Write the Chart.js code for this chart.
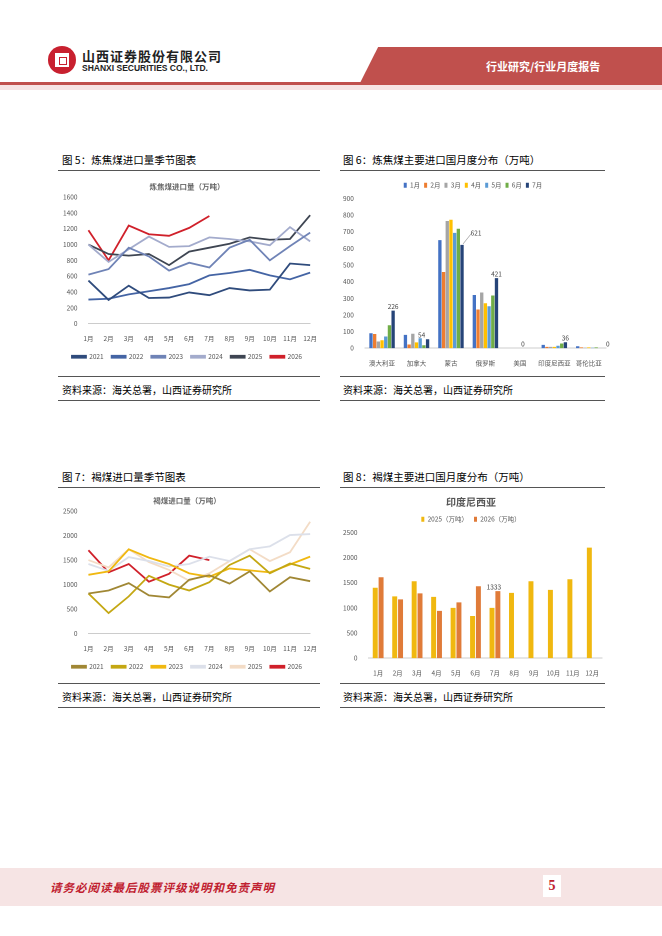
<!DOCTYPE html>
<html><head><meta charset="utf-8">
<script src="https://cdn.jsdelivr.net/npm/chart.js@4"></script>
<style>
body{margin:0;width:662px;height:936px;position:relative;background:#fff;font-family:"Noto Sans CJK SC",sans-serif;overflow:hidden}
.abs{position:absolute}
.ttl{font-size:10.5px;color:#000}
.src{font-size:10px;color:#000}
.hr{position:absolute;height:0;border-top:1px solid #555}
</style></head><body>
<!-- header -->
<div class="abs" style="left:48px;top:46px;width:28px;height:28px;border-radius:50%;background:#c8202f"></div>
<div class="abs" style="left:55px;top:53px;width:14px;height:14px;background:#fff"></div>
<div class="abs" style="left:59px;top:57px;width:6px;height:6px;border:1px solid #c8202f"></div>
<div class="abs" style="left:82px;top:46px;font-size:13px;font-weight:bold;color:#222;letter-spacing:1px">山西证券股份有限公司</div>
<div class="abs" style="left:82px;top:63px;font-size:8.5px;font-weight:bold;color:#222;font-family:'Liberation Sans'">SHANXI SECURITIES CO., LTD.</div>
<div class="abs" style="left:360px;top:47px;width:302px;height:36px;background:#c0504d;clip-path:polygon(6% 0,100% 0,100% 100%,0 100%)"></div>
<div class="abs" style="left:486px;top:58px;font-size:11px;color:#fff;font-weight:bold">行业研究/行业月度报告</div>
<div class="abs" style="left:0;top:82px;width:662px;height:3px;background:#c0504d"></div>
<div class="abs" style="left:0;top:85px;width:662px;height:5px;background:#f6e4e4"></div>

<!-- titles -->
<div class="abs ttl" style="left:62px;top:152px">图 5：炼焦煤进口量季节图表</div>
<div class="abs ttl" style="left:343px;top:152px">图 6：炼焦煤主要进口国月度分布（万吨）</div>
<div class="hr" style="left:58px;top:170px;width:262px"></div>
<div class="hr" style="left:340px;top:170px;width:265px"></div>
<div class="hr" style="left:58px;top:376px;width:262px"></div>
<div class="hr" style="left:340px;top:376px;width:265px"></div>
<div class="abs src" style="left:62px;top:382px">资料来源：海关总署，山西证券研究所</div>
<div class="abs src" style="left:343px;top:382px">资料来源：海关总署，山西证券研究所</div>
<div class="hr" style="left:58px;top:400px;width:262px"></div>
<div class="hr" style="left:340px;top:400px;width:265px"></div>

<div class="abs ttl" style="left:62px;top:469px">图 7：褐煤进口量季节图表</div>
<div class="abs ttl" style="left:343px;top:469px">图 8：褐煤主要进口国月度分布（万吨）</div>
<div class="hr" style="left:58px;top:487px;width:262px"></div>
<div class="hr" style="left:340px;top:487px;width:265px"></div>
<div class="hr" style="left:58px;top:683px;width:262px"></div>
<div class="hr" style="left:340px;top:683px;width:265px"></div>
<div class="abs src" style="left:62px;top:689px">资料来源：海关总署，山西证券研究所</div>
<div class="abs src" style="left:343px;top:689px">资料来源：海关总署，山西证券研究所</div>
<div class="hr" style="left:58px;top:707px;width:262px"></div>
<div class="hr" style="left:340px;top:707px;width:265px"></div>

<div class="abs" style="left:58px;top:178px;width:262px;height:192px"><canvas id="c1"></canvas></div>
<div class="abs" style="left:340px;top:178px;width:270px;height:192px"><canvas id="c2"></canvas></div>
<div class="abs" style="left:58px;top:492px;width:262px;height:188px"><canvas id="c3"></canvas></div>
<div class="abs" style="left:340px;top:492px;width:270px;height:188px"><canvas id="c4"></canvas></div>

<!-- footer -->
<div class="abs" style="left:0;top:868px;width:662px;height:38px;background:#f6e4e4"></div>
<div class="abs" style="left:50px;top:879px;font-size:11.5px;color:#c0202f;font-weight:bold;font-style:italic;letter-spacing:1px">请务必阅读最后股票评级说明和免责声明</div>
<div class="abs" style="left:543px;top:875px;width:18px;height:22px;background:#fff;color:#c0202f;font-weight:bold;font-size:14px;text-align:center;line-height:22px;font-family:'Liberation Serif'">5</div>

<script>
var months = ['1月','2月','3月','4月','5月','6月','7月','8月','9月','10月','11月','12月'];

// 炼焦煤进口量
var ck2021 = [545,300,480,325,330,395,360,450,420,430,760,740];
var ck2022 = [305,315,370,410,450,500,610,640,680,610,560,645];
var ck2023 = [620,690,960,850,670,770,710,960,1060,800,980,1150];
var ck2024 = [1000,780,940,1100,970,980,1090,1070,1040,990,1220,1040];
var ck2025 = [1000,880,860,880,740,910,960,1010,1090,1060,1070,1370];
var ck2026 = [1180,800,1240,1130,1110,1210,1360];

// 主要进口国
var countries = ['澳大利亚','加拿大','蒙古','俄罗斯','美国','印度尼西亚','哥伦比亚'];
var cm1 = [90,80,650,320,0,20,12];
var cm2 = [85,22,458,233,0,8,5];
var cm3 = [40,87,765,335,0,8,3];
var cm4 = [48,35,772,270,0,8,5];
var cm5 = [70,60,693,252,0,15,3];
var cm6 = [138,18,718,317,0,28,5];
var cm7 = [226,54,621,421,0,36,0];

// 褐煤进口量
var lg2021 = [820,880,1030,780,740,1100,1190,1020,1270,860,1150,1070];
var lg2022 = [820,420,760,1180,1000,880,1050,1400,1590,1230,1430,1320];
var lg2023 = [1200,1270,1720,1550,1420,1230,1160,1330,1290,1250,1410,1570];
var lg2024 = [1420,1280,1560,1480,1370,1420,1570,1480,1720,1780,2010,2030];
var lg2025 = [1500,1350,1720,1460,1300,1080,1230,1480,1720,1480,1660,2280];
var lg2026 = [1700,1250,1420,1060,1220,1590,1500];

// 印度尼西亚
var id2025 = [1400,1230,1530,1220,1000,840,1000,1300,1530,1360,1570,2200];
var id2026 = [1610,1170,1290,940,1110,1430,1333];

Chart.defaults.font = {family:'"Noto Sans CJK SC"', size:6.5};
Chart.defaults.color = '#555';
Chart.defaults.animation = false;
Chart.defaults.devicePixelRatio = 2;

var plainTick = function(v){ return String(v); };

var labelPlugin = {
  id:'lbl',
  afterDatasetsDraw:function(chart, args, opts){
    var ctx = chart.ctx;
    (opts.items||[]).forEach(function(it){
      var el = chart.getDatasetMeta(it.ds).data[it.i];
      var v = chart.data.datasets[it.ds].data[it.i];
      var dx = it.dx||0, dy = it.dy||0;
      ctx.save(); ctx.fillStyle='#444'; ctx.font='6.5px "Noto Sans CJK SC"'; ctx.textAlign='center';
      ctx.fillText(String(v), el.x + dx, el.y - 4 + dy);
      if (it.lead){ ctx.strokeStyle='#999'; ctx.lineWidth=0.6; ctx.beginPath(); ctx.moveTo(el.x+1,el.y-1); ctx.lineTo(el.x+dx-5,el.y+dy-3); ctx.stroke(); }
      ctx.restore();
    });
  }
};

var xAxis = {grid:{display:false}, border:{color:'#ccc'}, ticks:{color:'#555', maxRotation:0, minRotation:0, autoSkip:false}};

function lineDs(label, data, color){
  return {label:label, data:data, borderColor:color, backgroundColor:color, borderWidth:1.8, pointRadius:0, tension:0};
}
function lineChart(id, title, max, step, sets){
  new Chart(document.getElementById(id), {
    type:'line',
    data:{labels:months, datasets:sets},
    options:{
      responsive:true, maintainAspectRatio:false,
      layout:{padding:{left:2,right:6}},
      scales:{
        x:xAxis,
        y:{min:0, max:max, ticks:{stepSize:step, color:'#555', callback:plainTick}, grid:{display:false}, border:{display:false}}
      },
      plugins:{
        title:{display:true, text:title, color:'#666', font:{size:7.5}, padding:{top:4,bottom:6}},
        legend:{position:'bottom', labels:{boxWidth:14, boxHeight:2, font:{size:6.5}, padding:8}}
      }
    }
  });
}

lineChart('c1','炼焦煤进口量（万吨）',1600,200,[
  lineDs('2021',ck2021,'#2f4b7c'),
  lineDs('2022',ck2022,'#4464a4'),
  lineDs('2023',ck2023,'#6f83b6'),
  lineDs('2024',ck2024,'#a3abcc'),
  lineDs('2025',ck2025,'#3e4552'),
  lineDs('2026',ck2026,'#d0202a')
]);

lineChart('c3','褐煤进口量（万吨）',2500,500,[
  lineDs('2021',lg2021,'#a08734'),
  lineDs('2022',lg2022,'#c4a712'),
  lineDs('2023',lg2023,'#f0b810'),
  lineDs('2024',lg2024,'#dce0ea'),
  lineDs('2025',lg2025,'#f3dcc6'),
  lineDs('2026',lg2026,'#d0202a')
]);

function barDs(label, data, color){
  return {label:label, data:data, backgroundColor:color, categoryPercentage:0.75, barPercentage:0.9};
}
new Chart(document.getElementById('c2'), {
  type:'bar',
  data:{labels:countries, datasets:[
    barDs('1月',cm1,'#4472c4'), barDs('2月',cm2,'#ed7d31'), barDs('3月',cm3,'#a5a5a5'),
    barDs('4月',cm4,'#ffc000'), barDs('5月',cm5,'#5b9bd5'), barDs('6月',cm6,'#70ad47'),
    barDs('7月',cm7,'#264478')
  ]},
  options:{
    responsive:true, maintainAspectRatio:false,
    layout:{padding:{right:4}},
    scales:{
      x:xAxis,
      y:{min:0,max:900,ticks:{stepSize:100,color:'#555',callback:plainTick},grid:{display:false},border:{display:false}}
    },
    plugins:{
      legend:{position:'top', labels:{boxWidth:3, boxHeight:5, padding:4, font:{size:6.5}}},
      lbl:{items:[{ds:6,i:0},{ds:6,i:1,dx:-6},{ds:6,i:2,dx:14,dy:-8,lead:true},{ds:6,i:3},{ds:6,i:4,dx:-8},{ds:6,i:5},{ds:6,i:6,dx:8}]}
    }
  },
  plugins:[labelPlugin]
});

new Chart(document.getElementById('c4'), {
  type:'bar',
  data:{labels:months, datasets:[
    {label:'2025（万吨）', data:id2025, backgroundColor:'#f0b810', categoryPercentage:0.6, barPercentage:0.85},
    {label:'2026（万吨）', data:id2026, backgroundColor:'#e07b39', categoryPercentage:0.6, barPercentage:0.85}
  ]},
  options:{
    responsive:true, maintainAspectRatio:false,
    layout:{padding:{right:8}},
    scales:{
      x:xAxis,
      y:{min:0,max:2500,ticks:{stepSize:500,color:'#555',callback:plainTick},grid:{display:false},border:{display:false}}
    },
    plugins:{
      title:{display:true, text:'印度尼西亚', color:'#555', font:{size:10}, padding:{top:4,bottom:2}},
      legend:{position:'top', labels:{boxWidth:3, boxHeight:5, padding:6, font:{size:6.5}}},
      lbl:{items:[{ds:1,i:6,dx:-4}]}
    }
  },
  plugins:[labelPlugin]
});
</script>
</body></html>
